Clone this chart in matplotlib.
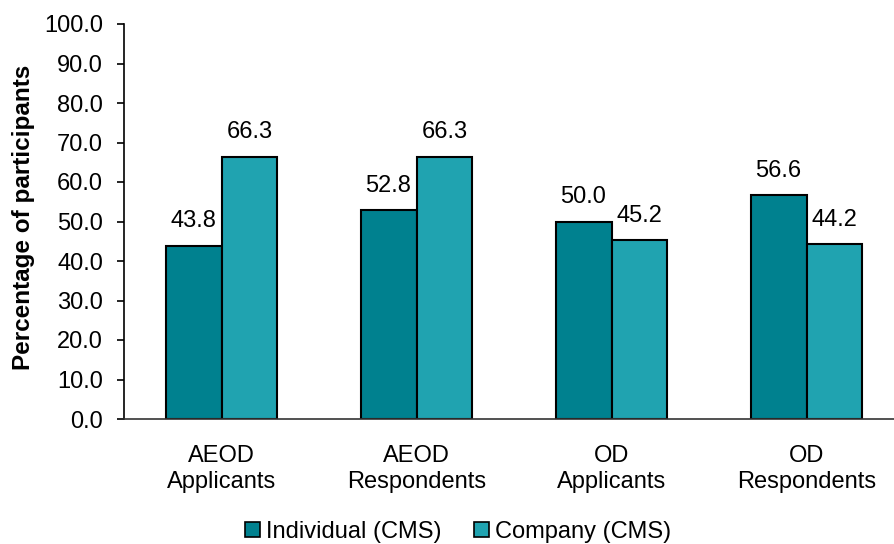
import matplotlib.pyplot as plt
import numpy as np
from matplotlib.patches import Patch

plt.rcParams['font.family'] = ['Liberation Sans', 'DejaVu Sans']

categories = ["AEOD\nApplicants", "AEOD\nRespondents", "OD\nApplicants", "OD\nRespondents"]
individual = [43.8, 52.8, 50.0, 56.6]
company = [66.3, 66.3, 45.2, 44.2]
yticks = [0, 10, 20, 30, 40, 50, 60, 70, 80, 90, 100]

c_ind = "#00818F"
c_comp = "#20A3B0"
fs = 17

fig = plt.figure(figsize=(8.94, 5.44), dpi=100)
ax = fig.add_axes([124 / 894, 1 - 419 / 544, 780 / 894, 395 / 544])

x = np.arange(len(categories))
w = 0.287
b1 = ax.bar(x - w / 2, individual, w, color=c_ind, edgecolor="black", linewidth=1.5, label="Individual (CMS)")
b2 = ax.bar(x + w / 2, company, w, color=c_comp, edgecolor="black", linewidth=1.5, label="Company (CMS)")

for bars, vals in ((b1, individual), (b2, company)):
    for r, v in zip(bars, vals):
        ax.text(r.get_x() + r.get_width() / 2, v + 3.5, f"{v:.1f}", ha="center", va="bottom", fontsize=fs)

ax.set_xlim(-0.5, 3.5)
ax.set_ylim(0, 100)
ax.set_yticks(yticks)
ax.set_yticklabels([f"{t:.1f}" for t in yticks], fontsize=fs)
ax.set_xticks(x)
ax.set_xticklabels(categories, fontsize=fs, linespacing=1.2)
ax.tick_params(axis="x", length=0, pad=19)
ax.tick_params(axis="y", length=5, width=1.2, direction="out", pad=10)
for s in ("top", "right"):
    ax.spines[s].set_visible(False)
ax.spines["left"].set_linewidth(1.2)
ax.spines["bottom"].set_linewidth(1.2)
ax.spines["bottom"].set_color("#333333")

ax.set_ylabel("Percentage of participants", fontsize=17.5, fontweight="bold")
ax.yaxis.set_label_coords(-0.114, 0.51)

handles = [Patch(facecolor=c_ind, edgecolor="black", linewidth=1.2, label="Individual (CMS)"),
           Patch(facecolor=c_comp, edgecolor="black", linewidth=1.2, label="Company (CMS)")]
fig.legend(handles=handles, loc="center", bbox_to_anchor=(458 / 894, 1 - 532 / 544), ncol=2,
           frameon=False, fontsize=fs, handlelength=0.63, handleheight=0.63,
           handletextpad=0.25, columnspacing=1.4, borderpad=0)

fig.savefig("out.png", dpi=100)
